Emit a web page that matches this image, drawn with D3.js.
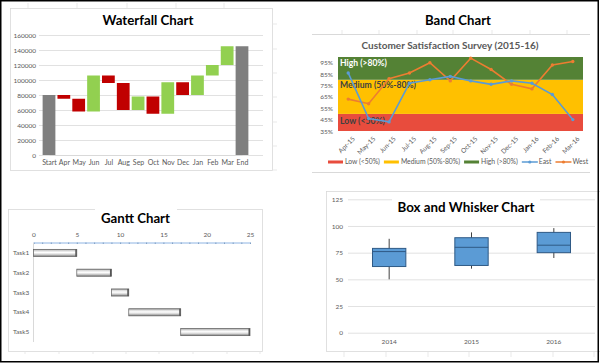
<!DOCTYPE html>
<html>
<head>
<meta charset="utf-8">
<script src="https://cdn.jsdelivr.net/npm/d3@7"></script>
<style>
  body { margin: 0; background: #fff; }
  svg { display: block; }
  svg text { font-family: Lato, 'Open Sans', sans-serif; }
  .tick text { fill: #595959; }
</style>
</head>
<body>
<div id="chart"></div>
<script>
// WATERFALL DATA
const wfCats = ['Start', 'Apr', 'May', 'Jun', 'Jul', 'Aug', 'Sep', 'Oct', 'Nov', 'Dec', 'Jan', 'Feb', 'Mar', 'End'];
const wfStart = 80000;
const wfChanges = [-5000, -17000, 48000, -10000, -36000, 18000, -23000, 42000, -17000, 26000, 14000, 25000];
const wfTicks = [0, 20000, 40000, 60000, 80000, 100000, 120000, 140000, 160000];

// BAND DATA
const bandMonths = ['Apr-15', 'May-15', 'Jun-15', 'Jul-15', 'Aug-15', 'Sep-15', 'Oct-15', 'Nov-15', 'Dec-15', 'Jan-16', 'Feb-16', 'Mar-16'];
const eastValues = [86, 46, 43, 77, 80, 83, 79, 76, 79, 77, 67, 45];
const westValues = [63, 59, 81, 86, 95, 79, 99, 89, 76, 72, 93, 96];
const bandNames = ['Low (<50%)', 'Medium (50%-80%)', 'High (>80%)'];
const bandFrom = [35, 50, 80];
const bandTo = [50, 80, 100];
const bandTicks = [35, 45, 55, 65, 75, 85, 95];

// GANTT DATA
const tasks = ['Task1', 'Task2', 'Task3', 'Task4', 'Task5'];
const taskStart = [0, 5, 9, 11, 17];
const taskDays = [5, 4, 2, 6, 8];
const ganttTicks = [0, 5, 10, 15, 20, 25];

// BOX DATA
const boxYears = ['2014', '2015', '2016'];
const boxMin = [50, 60, 70];
const boxQ1 = [62, 63, 75];
const boxMedian = [76, 80, 82];
const boxQ3 = [79, 89, 94];
const boxMax = [88, 94, 98];
const boxTicks = [0, 25, 50, 75, 100, 125];

const gridColor = '#d9d9d9';
const textColor = '#595959';

const svg = d3.select('#chart').append('svg')
  .attr('width', 600)
  .attr('height', 363);

svg.append('rect').attr('width', 600).attr('height', 363).attr('fill', '#fff');

drawWaterfall();
drawBand();
drawGantt();
drawBox();

// outer frame
svg.append('rect')
  .attr('x', 0.75).attr('y', 0.75).attr('width', 597.5).attr('height', 361)
  .attr('fill', 'none').attr('stroke', '#000').attr('stroke-width', 1.5);

// squeeze a text to the width it has in the excel screenshot (Calibri is narrow)
function fitText(t, width) {
  const size = parseFloat(t.style('font-size'));
  const len = t.node().getComputedTextLength();
  if (len > 0) t.style('font-size', (size * width / len).toFixed(2) + 'px');
  return t;
}

function axisFont(s, size) {
  s.attr('font-family', null);
  s.selectAll('.tick text').style('font-size', size);
}

// little excel cell marks around the pasted charts
function cellTicks(xs, y1, y2) {
  xs.forEach(function(x) {
    svg.append('line').attr('x1', x).attr('x2', x).attr('y1', y1).attr('y2', y2)
      .attr('stroke', '#e3e3e3').attr('stroke-width', 0.8);
  });
}

function drawWaterfall() {
  const g = svg.append('g').attr('class', 'waterfall');
  g.append('rect').attr('x', 10.5).attr('y', 8.5).attr('width', 262).attr('height', 162)
    .attr('fill', '#fff').attr('stroke', gridColor).attr('stroke-width', 0.8);

  const x = d3.scalePoint().domain(wfCats).range([49, 242]);
  const y = d3.scaleLinear().domain([0, 160000]).range([155, 35]);
  const barW = x.step() * 0.86;

  // running totals
  let bars = [];
  let running = wfStart;
  bars.push({cat: 'Start', y0: 0, y1: wfStart, type: 'total'});
  wfChanges.forEach(function(d, i) {
    bars.push({cat: wfCats[i + 1], y0: running, y1: running + d, type: d < 0 ? 'down' : 'up'});
    running += d;
  });
  bars.push({cat: 'End', y0: 0, y1: running, type: 'total'});
  const colors = {total: '#7f7f7f', down: '#c00000', up: '#92d050'};

  g.append('g')
    .attr('transform', 'translate(39,0)')
    .call(d3.axisLeft(y).tickValues(wfTicks).tickSize(-224).tickFormat(d3.format('d')))
    .call(function(s) {
      s.select('.domain').remove();
      axisFont(s, '6.5px');
      s.selectAll('.tick line').attr('stroke', gridColor).attr('stroke-width', 0.8);
      s.selectAll('.tick text').attr('x', -3);
    });

  g.selectAll('.wf-bar')
    .data(bars)
    .enter().append('rect')
    .attr('class', 'wf-bar')
    .attr('x', function(d) { return x(d.cat) - barW / 2; })
    .attr('width', barW)
    .attr('y', function(d) { return y(Math.max(d.y0, d.y1)); })
    .attr('height', function(d) { return Math.abs(y(d.y0) - y(d.y1)); })
    .attr('fill', function(d) { return colors[d.type]; });

  g.append('g')
    .attr('transform', 'translate(0,155)')
    .call(d3.axisBottom(x).tickSize(0).tickPadding(5))
    .call(function(s) {
      s.select('.domain').attr('stroke', gridColor);
      axisFont(s, '7px');
    });

  fitText(g.append('text')
    .attr('x', 148).attr('y', 25)
    .attr('text-anchor', 'middle')
    .style('font-size', '15px').style('font-weight', 'bold').attr('fill', '#000')
    .text('Waterfall Chart'), 91);

  cellTicks([28, 77, 127, 176, 224], 3, 8);
  [24, 49, 73, 97, 122, 146, 170].forEach(function(yy) {
    svg.append('line').attr('x1', 272).attr('x2', 277).attr('y1', yy).attr('y2', yy)
      .attr('stroke', '#e3e3e3').attr('stroke-width', 0.8);
  });
}

function drawBand() {
  const g = svg.append('g').attr('class', 'band');
  const left = 338, right = 583, top = 57, bottom = 131;
  const bandColors = ['#e84c3d', '#ffc000', '#548235'];
  const labelColors = ['#404040', '#404040', '#fff'];
  const labelY = [123.5, 87.5, 66];
  const labelW = [45, 76, 47];

  fitText(g.append('text')
    .attr('x', 458).attr('y', 25)
    .attr('text-anchor', 'middle')
    .style('font-size', '15px').style('font-weight', 'bold')
    .text('Band Chart'), 66);

  g.append('line').attr('x1', 312).attr('x2', 590).attr('y1', 34.5).attr('y2', 34.5)
    .attr('stroke', gridColor);
  g.append('line').attr('x1', 312).attr('x2', 590).attr('y1', 172.5).attr('y2', 172.5)
    .attr('stroke', gridColor);
  cellTicks([342, 379, 417, 453, 492, 530, 567], 30, 34);

  fitText(g.append('text')
    .attr('x', 450).attr('y', 48.5)
    .attr('text-anchor', 'middle')
    .style('font-size', '9px').style('font-weight', 'bold').attr('fill', textColor)
    .text('Customer Satisfaction Survey (2015-16)'), 177);

  const x = d3.scaleBand().domain(bandMonths).range([left, right]);
  const y = d3.scaleLinear().domain([35, 100]).range([bottom, top]);
  const cx = function(m) { return x(m) + x.bandwidth() / 2; };

  g.selectAll('.band-rect')
    .data(bandNames)
    .enter().append('rect')
    .attr('class', 'band-rect')
    .attr('x', left)
    .attr('width', right - left)
    .attr('y', function(d, i) { return y(bandTo[i]); })
    .attr('height', function(d, i) { return y(bandFrom[i]) - y(bandTo[i]); })
    .attr('fill', function(d, i) { return bandColors[i]; });

  g.selectAll('.band-label')
    .data(bandNames)
    .enter().append('text')
    .attr('class', 'band-label')
    .attr('x', left + 2)
    .attr('y', function(d, i) { return labelY[i]; })
    .style('font-size', '9px').style('font-weight', 'bold')
    .attr('fill', function(d, i) { return labelColors[i]; })
    .text(function(d) { return d; })
    .each(function(d, i) { fitText(d3.select(this), labelW[i]); });

  g.append('g')
    .attr('transform', 'translate(' + left + ',0)')
    .call(d3.axisLeft(y).tickValues(bandTicks).tickSize(0).tickPadding(5).tickFormat(function(d) { return d + '%'; }))
    .call(function(s) {
      s.select('.domain').remove();
      axisFont(s, '6.5px');
    });

  g.append('g')
    .attr('transform', 'translate(0,' + bottom + ')')
    .call(d3.axisBottom(x).tickSize(0).tickPadding(4))
    .call(function(s) {
      s.select('.domain').remove();
      axisFont(s, '6.5px');
      s.selectAll('.tick text')
        .attr('text-anchor', 'end')
        .attr('dy', '0.3em')
        .attr('transform', 'translate(3,4) rotate(-45)');
    });

  const series = [
    {name: 'East', values: eastValues, color: '#5b9bd5'},
    {name: 'West', values: westValues, color: '#ed7d31'}
  ];
  const line = d3.line()
    .x(function(d, i) { return cx(bandMonths[i]); })
    .y(function(d) { return y(d); });

  series.slice().reverse().forEach(function(s) {
    g.append('path')
      .attr('d', line(s.values))
      .attr('fill', 'none')
      .attr('stroke', s.color)
      .attr('stroke-width', 1.6);
    g.selectAll('.dot-' + s.name)
      .data(s.values)
      .enter().append('circle')
      .attr('cx', function(d, i) { return cx(bandMonths[i]); })
      .attr('cy', function(d) { return y(d); })
      .attr('r', 1.7)
      .attr('fill', s.color);
  });

  // legend
  let lx = 328;
  const ly = 162;
  const legendItems = bandNames.map(function(d, i) { return {name: d, color: bandColors[i], type: 'rect'}; })
    .concat(series.map(function(s) { return {name: s.name, color: s.color, type: 'line'}; }));
  legendItems.forEach(function(item) {
    if (item.type === 'rect') {
      g.append('rect').attr('x', lx).attr('y', ly - 1.5).attr('width', 15).attr('height', 3).attr('fill', item.color);
    } else {
      g.append('line').attr('x1', lx).attr('x2', lx + 16).attr('y1', ly).attr('y2', ly)
        .attr('stroke', item.color).attr('stroke-width', 1.5);
      g.append('circle').attr('cx', lx + 8).attr('cy', ly).attr('r', 1.6).attr('fill', item.color);
    }
    const t = g.append('text')
      .attr('x', lx + 17).attr('y', ly + 2.3)
      .style('font-size', '6.8px').attr('fill', textColor)
      .text(item.name);
    lx += 17 + t.node().getComputedTextLength() + 4;
  });
}

function drawGantt() {
  const g = svg.append('g').attr('class', 'gantt');
  g.append('rect').attr('x', 8.5).attr('y', 209.5).attr('width', 254).attr('height', 142)
    .attr('fill', '#fff').attr('stroke', gridColor).attr('stroke-width', 0.8);
  cellTicks([25, 59, 93, 126, 159, 193, 227, 260], 351, 354);

  const x = d3.scaleLinear().domain([0, 25]).range([33.5, 250]);
  const y = d3.scaleBand().domain(tasks).range([243, 342]);
  const barH = y.bandwidth() * 0.36;

  // title sits on a white patch over the frame line
  g.append('rect').attr('x', 95).attr('y', 205).attr('width', 82).attr('height', 8).attr('fill', '#fff');
  fitText(g.append('text')
    .attr('x', 135.5).attr('y', 223)
    .attr('text-anchor', 'middle')
    .style('font-size', '15px').style('font-weight', 'bold')
    .text('Gantt Chart'), 69);

  const defs = svg.append('defs');
  const grad = defs.append('linearGradient').attr('id', 'ganttGrad')
    .attr('x1', 0).attr('x2', 0).attr('y1', 0).attr('y2', 1);
  [['0%', '#8a8a8a'], ['18%', '#d8d8d8'], ['45%', '#ffffff'], ['70%', '#d6d6d6'], ['100%', '#7a7a7a']].forEach(function(s) {
    grad.append('stop').attr('offset', s[0]).attr('stop-color', s[1]);
  });

  // minor ticks each day
  g.append('g')
    .attr('transform', 'translate(0,242.5)')
    .call(d3.axisBottom(x).ticks(25).tickSize(1.5).tickFormat(''))
    .call(function(s) {
      s.select('.domain').attr('stroke', '#8eb4e3');
      s.selectAll('.tick line').attr('stroke', '#7f9fc4');
    });
  g.append('g')
    .attr('transform', 'translate(0,242.5)')
    .call(d3.axisTop(x).tickValues(ganttTicks).tickSize(0).tickPadding(6))
    .call(function(s) {
      s.select('.domain').remove();
      axisFont(s, '6.5px');
      s.selectAll('.tick text').attr('fill', '#7f7f7f');
    });

  g.append('line').attr('x1', 33.5).attr('x2', 33.5).attr('y1', 243).attr('y2', 342)
    .attr('stroke', gridColor);

  g.append('g')
    .attr('transform', 'translate(13,0)')
    .call(d3.axisLeft(y).tickSize(0).tickPadding(0))
    .call(function(s) {
      s.select('.domain').remove();
      axisFont(s, '6.5px');
      s.selectAll('.tick text').attr('fill', '#7f7f7f').attr('text-anchor', 'start');
    });

  const bars = g.selectAll('.gantt-bar')
    .data(tasks)
    .enter().append('g')
    .attr('class', 'gantt-bar');
  bars.append('rect')
    .attr('x', function(d, i) { return x(taskStart[i]); })
    .attr('y', function(d) { return y(d) + y.bandwidth() / 2 - barH / 2; })
    .attr('width', function(d, i) { return x(taskStart[i] + taskDays[i]) - x(taskStart[i]); })
    .attr('height', barH)
    .attr('fill', 'url(#ganttGrad)')
    .attr('stroke', '#5f5f5f')
    .attr('stroke-width', 0.7);
  bars.append('rect')
    .attr('x', function(d, i) { return x(taskStart[i] + taskDays[i]) - 1.5; })
    .attr('y', function(d) { return y(d) + y.bandwidth() / 2 - barH / 2; })
    .attr('width', 1.5)
    .attr('height', barH)
    .attr('fill', '#555');
}

function drawBox() {
  const g = svg.append('g').attr('class', 'box');
  g.append('rect').attr('x', 326.5).attr('y', 191.5).attr('width', 300).attr('height', 160)
    .attr('fill', '#fff').attr('stroke', gridColor).attr('stroke-width', 0.8);
  cellTicks([344, 386, 428, 469, 511, 553, 594], 352, 357);

  const x = d3.scaleBand().domain(boxYears).range([348, 595]);
  const y = d3.scaleLinear().domain([0, 125]).range([332.7, 199.3]);
  const boxW = x.bandwidth() * 0.405;
  const cx = function(d) { return x(d) + x.bandwidth() / 2; };

  g.append('g')
    .attr('transform', 'translate(348,0)')
    .call(d3.axisLeft(y).tickValues(boxTicks).tickSize(-247).tickPadding(5))
    .call(function(s) {
      s.select('.domain').remove();
      axisFont(s, '6.5px');
      s.selectAll('.tick line').attr('stroke', gridColor).attr('stroke-width', 0.8);
    });

  g.append('rect').attr('x', 392).attr('y', 195).attr('width', 148).attr('height', 20).attr('fill', '#fff');
  fitText(g.append('text')
    .attr('x', 466).attr('y', 211.5)
    .attr('text-anchor', 'middle')
    .style('font-size', '15px').style('font-weight', 'bold')
    .text('Box and Whisker Chart'), 137);

  g.append('g')
    .attr('transform', 'translate(0,332.7)')
    .call(d3.axisBottom(x).tickSize(0).tickPadding(7))
    .call(function(s) {
      s.select('.domain').remove();
      axisFont(s, '6.5px');
    });

  const boxes = g.selectAll('.bw')
    .data(boxYears)
    .enter().append('g')
    .attr('class', 'bw');
  boxes.append('line')
    .attr('x1', cx).attr('x2', cx)
    .attr('y1', function(d, i) { return y(boxMax[i]); })
    .attr('y2', function(d, i) { return y(boxMin[i]); })
    .attr('stroke', '#404040').attr('stroke-width', 1);
  boxes.append('rect')
    .attr('x', function(d) { return cx(d) - boxW / 2; })
    .attr('width', boxW)
    .attr('y', function(d, i) { return y(boxQ3[i]); })
    .attr('height', function(d, i) { return y(boxQ1[i]) - y(boxQ3[i]); })
    .attr('fill', '#5b9bd5')
    .attr('stroke', '#2f5a86').attr('stroke-width', 1);
  boxes.append('line')
    .attr('x1', function(d) { return cx(d) - boxW / 2; })
    .attr('x2', function(d) { return cx(d) + boxW / 2; })
    .attr('y1', function(d, i) { return y(boxMedian[i]); })
    .attr('y2', function(d, i) { return y(boxMedian[i]); })
    .attr('stroke', '#2f5a86').attr('stroke-width', 1);
}
</script>
</body>
</html>
